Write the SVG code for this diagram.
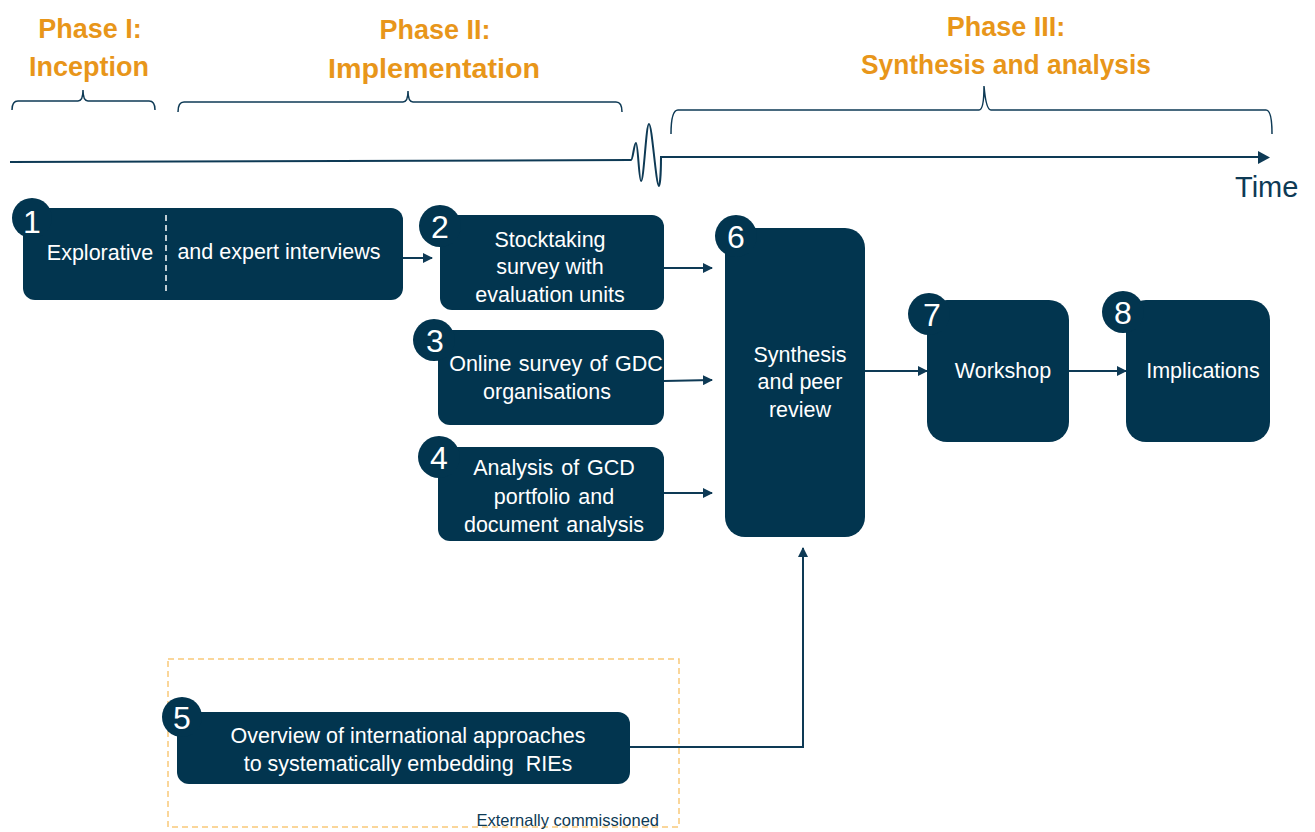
<svg xmlns="http://www.w3.org/2000/svg" width="1315" height="832" viewBox="0 0 1315 832">
<style>
.phase{font-family:"Liberation Sans",Arial,sans-serif;font-weight:bold;font-size:27px;fill:#E8961A;text-anchor:middle}
.box{fill:#02354F}
.lbl{font-family:"Liberation Sans",Arial,sans-serif;font-size:21.5px;fill:#FFFFFF;text-anchor:middle}
.num{font-family:"Liberation Sans",Arial,sans-serif;font-size:32px;fill:#FFFFFF;text-anchor:middle}
.line{fill:none;stroke:#0E3A55;stroke-width:2}
.brace{fill:none;stroke:#0E3A55;stroke-width:1.5}
</style>
<defs>
<marker id="arr" viewBox="0 0 10 10" refX="9" refY="5" markerWidth="10" markerHeight="10" markerUnits="userSpaceOnUse" orient="auto">
<path d="M0,0 L10,5 L0,10 z" fill="#0E3A55"/>
</marker>
</defs>
<rect width="1315" height="832" fill="#FFFFFF"/>

<g id="phases">
<text class="phase" x="90" y="38">Phase I:</text>
<text class="phase" x="89" y="76">Inception</text>
<text class="phase" x="435" y="39">Phase II:</text>
<text class="phase" x="434" y="78" textLength="212" lengthAdjust="spacingAndGlyphs">Implementation</text>
<text class="phase" x="1006" y="36">Phase III:</text>
<text class="phase" x="1006" y="74" textLength="290" lengthAdjust="spacingAndGlyphs">Synthesis and analysis</text>
<path class="brace" d="M12,110 Q12,101 18,101 L78,101 Q83,101 83,90 Q83,101 88,101 L149,101 Q155,101 155,110"/>
<path class="brace" d="M178,112 Q178,102 184,102 L403,102 Q408,102 408,91 Q408,102 413,102 L616,102 Q622,102 622,112"/>
<path class="brace" d="M671,134 Q671,110 678,110 L979,110 Q984,110 984,86 Q986,110 991,110 L1266,110 Q1272,110 1272,134"/>
</g>

<g id="timeline">
<path class="line" d="M10,162 L631,160 C633,160 634,143 636,143 C638,143 639,181 641,181 C644,181 646,124 649,124 C652,124 656,186 659,186 C660,186 661,170 661,157 L1262,157"/>
<path d="M1258,151 L1270,157.5 L1258,164 z" fill="#0E3A55"/>
<text x="1235" y="197" font-family="Liberation Sans,Arial,sans-serif" font-size="29" fill="#0E3A55">Time</text>
</g>

<g id="external">
<rect x="168" y="659" width="511" height="168" fill="none" stroke="#F9C97A" stroke-width="1.5" stroke-dasharray="6,4"/>
<text x="659" y="826" font-family="Liberation Sans,Arial,sans-serif" font-size="16.5" fill="#0E3A55" text-anchor="end">Externally commissioned</text>
</g>

<g id="connectors">
<line class="line" x1="403" y1="258" x2="432" y2="258" marker-end="url(#arr)"/>
<line class="line" x1="664" y1="268" x2="712" y2="268" marker-end="url(#arr)"/>
<line class="line" x1="664" y1="381" x2="712" y2="380" marker-end="url(#arr)"/>
<line class="line" x1="664" y1="493" x2="712" y2="493" marker-end="url(#arr)"/>
<line class="line" x1="865" y1="371" x2="927" y2="371" marker-end="url(#arr)"/>
<line class="line" x1="1069" y1="371" x2="1126" y2="371" marker-end="url(#arr)"/>
<path class="line" d="M630,747 L803,747 L803,548" marker-end="url(#arr)"/>
</g>

<g id="node1">
<rect class="box" x="23" y="208" width="380" height="92" rx="12"/>
<circle class="box" cx="32" cy="218" r="20"/>
<text class="num" x="32" y="233">1</text>
<line x1="166" y1="215" x2="166" y2="291" stroke="#FFFFFF" stroke-width="1.5" stroke-dasharray="6,4"/>
<text class="lbl" x="100" y="260">Explorative</text>
<text class="lbl" x="279" y="259">and expert interviews</text>
</g>

<g id="node2">
<rect class="box" x="440" y="215" width="224" height="95" rx="12"/>
<circle class="box" cx="440" cy="226" r="21"/>
<text class="num" x="440" y="238">2</text>
<text class="lbl" x="550" y="247">Stocktaking</text>
<text class="lbl" x="550" y="274">survey with</text>
<text class="lbl" x="550" y="302">evaluation units</text>
</g>

<g id="node3">
<rect class="box" x="438" y="330" width="226" height="95" rx="12"/>
<circle class="box" cx="434" cy="340" r="21"/>
<text class="num" x="435" y="352">3</text>
<text class="lbl" x="556" y="371" word-spacing="1.5">Online survey of GDC</text>
<text class="lbl" x="547" y="399">organisations</text>
</g>

<g id="node4">
<rect class="box" x="438" y="447" width="226" height="94" rx="12"/>
<circle class="box" cx="439" cy="457" r="21"/>
<text class="num" x="439" y="469">4</text>
<text class="lbl" x="554" y="475" word-spacing="2">Analysis of GCD</text>
<text class="lbl" x="554" y="504" word-spacing="2">portfolio and</text>
<text class="lbl" x="554" y="532" word-spacing="2">document analysis</text>
</g>

<g id="node6">
<rect class="box" x="725" y="228" width="140" height="309" rx="20"/>
<circle class="box" cx="736" cy="236" r="21"/>
<text class="num" x="736" y="248">6</text>
<text class="lbl" x="800" y="362">Synthesis</text>
<text class="lbl" x="800" y="389">and peer</text>
<text class="lbl" x="800" y="417">review</text>
</g>

<g id="node7">
<rect class="box" x="927" y="300" width="142" height="142" rx="20"/>
<circle class="box" cx="929" cy="314" r="21"/>
<text class="num" x="932" y="326">7</text>
<text class="lbl" x="1003" y="378">Workshop</text>
</g>

<g id="node8">
<rect class="box" x="1126" y="300" width="144" height="142" rx="20"/>
<circle class="box" cx="1123" cy="312" r="21"/>
<text class="num" x="1123" y="324">8</text>
<text class="lbl" x="1203" y="378">Implications</text>
</g>

<g id="node5">
<rect class="box" x="177" y="712" width="453" height="72" rx="12"/>
<circle class="box" cx="182" cy="717" r="20"/>
<text class="num" x="182" y="729">5</text>
<text class="lbl" x="408" y="743">Overview of international approaches</text>
<text class="lbl" x="408" y="771" style="white-space:pre">to systematically embedding  RIEs</text>
</g>
</svg>
